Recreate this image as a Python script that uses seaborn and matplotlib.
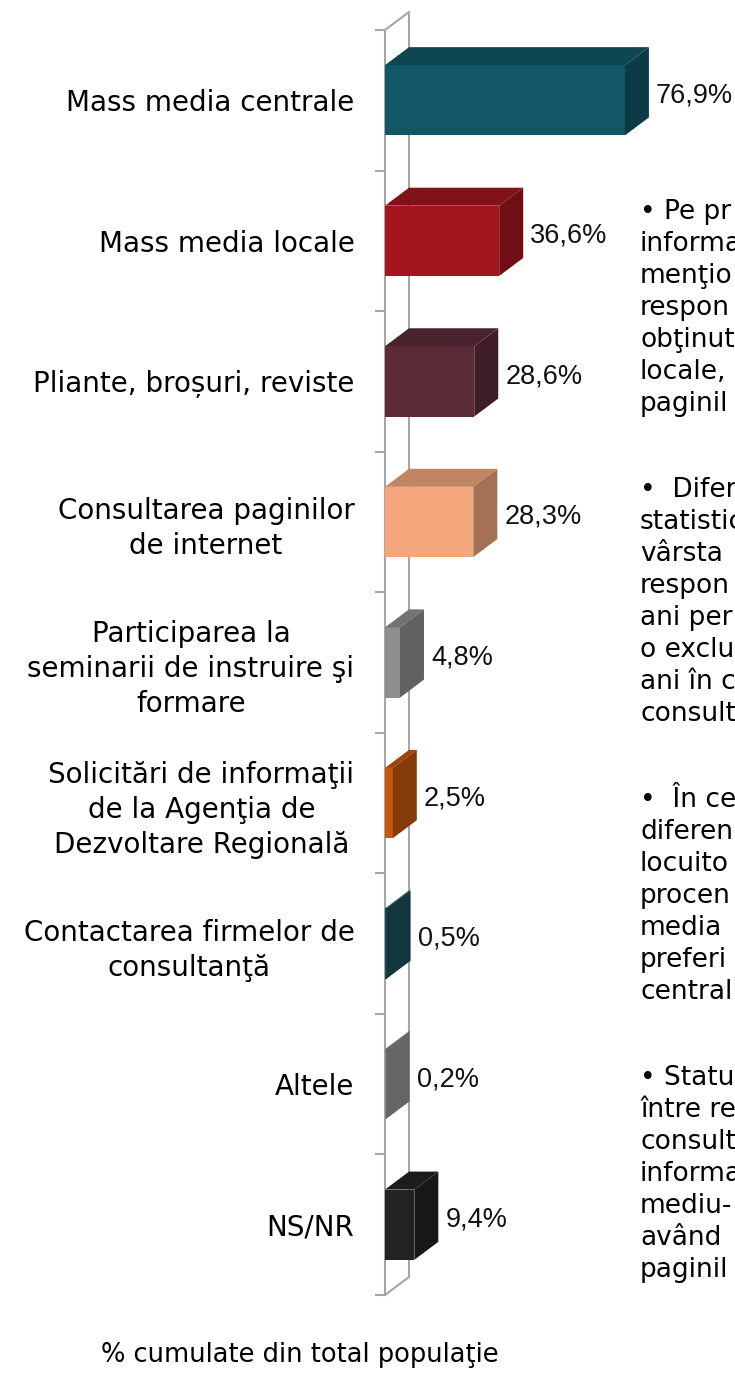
import numpy as np
import matplotlib.pyplot as plt
import seaborn as sns
from matplotlib.patches import Polygon
from matplotlib.lines import Line2D
from matplotlib.transforms import IdentityTransform
from matplotlib.colors import to_rgb

# data
categories = [
    "Mass media centrale",
    "Mass media locale",
    "Pliante, broșuri, reviste",
    "Consultarea paginilor\nde internet",
    "Participarea la\nseminarii de instruire şi\nformare",
    "Solicitări de informaţii\nde la Agenţia de\nDezvoltare Regională",
    "Contactarea firmelor de\nconsultanţă",
    "Altele",
    "NS/NR",
]
values = [76.9, 36.6, 28.6, 28.3, 4.8, 2.5, 0.5, 0.2, 9.4]
value_labels = ["76,9%", "36,6%", "28,6%", "28,3%", "4,8%", "2,5%", "0,5%", "0,2%", "9,4%"]
bar_colors = ["#125766", "#a3161f", "#5c2b38", "#f3a67c", "#8e8e8e",
              "#c4560e", "#1b4e5b", "#969696", "#232323"]

# the text panel on the right (cut by the edge of the picture)
side_text = [
    ["• Pe pr", "informa", "menţio", "respon", "obţinut", "locale,", "paginil"],
    ["•  Difer", "statistic", "vârsta", "respon", "ani per", "o exclu", "ani în c", "consult"],
    ["•  În ce", "diferen", "locuito", "procen", "media", "preferi", "central"],
    ["• Statu", "între re", "consult", "informa", "mediu-", "având", "paginil"],
]
side_text_top = [212, 490, 800, 1078]

x_title = "% cumulate din total populaţie"

sns.set_style("white")
plt.rcParams["font.family"] = ["DejaVu Sans"]

W, H = 735, 1376
fig = plt.figure(figsize=(W / 100, H / 100), dpi=100)
ax = fig.add_axes([385 / W, (H - 1295) / H, 312 / W, (1295 - 30) / H])

sns.barplot(x=values, y=categories, hue=categories, palette=bar_colors,
            legend=False, orient="h", width=0.5, saturation=1,
            edgecolor="none", linewidth=0, ax=ax, zorder=3)

ax.set_xlim(0, 100)
ax.set_ylim(len(categories) - 0.5, -0.5)
ax.set_xlabel("")
ax.set_ylabel("")
ax.set_xticks([])

wall = "#a6a6a6"
for s in ["top", "right", "bottom"]:
    ax.spines[s].set_visible(False)
ax.spines["left"].set_color(wall)
ax.spines["left"].set_linewidth(1.5)
ax.spines["left"].set_zorder(0.5)

ax.set_yticks(np.arange(len(categories)))
ax.set_yticklabels(categories, fontsize=20, multialignment="center",
                   linespacing=1.32, color="black")
ax.set_yticks(np.arange(-0.5, len(categories), 1), minor=True)
ax.tick_params(axis="y", which="major", left=False, length=0, pad=22)
ax.tick_params(axis="y", which="minor", left=True, length=7, width=1.5,
               color=wall, direction="out")

# 3D depth in pixels
DX, DY = 24, 18
ident = IdentityTransform()


def shade(c, f):
    r, g, b = to_rgb(c)
    return (r * f, g * f, b * f)


# back wall
(fx0, fyb), (_, fyt) = ax.transAxes.transform([(0, 0), (0, 1)])
for xs, ys in [([fx0 + DX, fx0 + DX], [fyb + DY, fyt + DY]),
               ([fx0, fx0 + DX], [fyt, fyt + DY]),
               ([fx0, fx0 + DX], [fyb, fyb + DY])]:
    ax.add_line(Line2D(xs, ys, transform=ident, color=wall, lw=1.5,
                       zorder=0.6, clip_on=False))

for i, cont in enumerate(ax.containers):
    p = cont.patches[0]
    x0, y0, w, h = p.get_x(), p.get_y(), p.get_width(), p.get_height()
    (xa, ya), (xb, yb2) = ax.transData.transform([(x0, y0), (x0 + w, y0 + h)])
    xl, xr = min(xa, xb), max(xa, xb)
    yb, yt = min(ya, yb2), max(ya, yb2)
    col = bar_colors[i]
    top = Polygon([(xl, yt), (xr, yt), (xr + DX, yt + DY), (xl + DX, yt + DY)],
                  closed=True, transform=ident, facecolor=shade(col, 0.8),
                  edgecolor="none", zorder=3, clip_on=False)
    side = Polygon([(xr, yb), (xr + DX, yb + DY), (xr + DX, yt + DY), (xr, yt)],
                   closed=True, transform=ident, facecolor=shade(col, 0.68),
                   edgecolor="none", zorder=3, clip_on=False)
    ax.add_patch(top)
    ax.add_patch(side)
    ax.text(xr + DX + 7, (yb + yt) / 2 + 5, value_labels[i], transform=ident,
            ha="left", va="center", fontsize=19.5, family=["Liberation Sans"],
            color="#111111", clip_on=False)

# right panel text
for top_y, lines in zip(side_text_top, side_text):
    for k, line in enumerate(lines):
        fig.text(640 / W, (H - (top_y + 32 * k)) / H, line, ha="left",
                 va="center", fontsize=19, color="black")

fig.text(300 / W, (H - 1355) / H, x_title, ha="center", va="center",
         fontsize=18.5, color="black")

fig.savefig("out.png", dpi=100)
